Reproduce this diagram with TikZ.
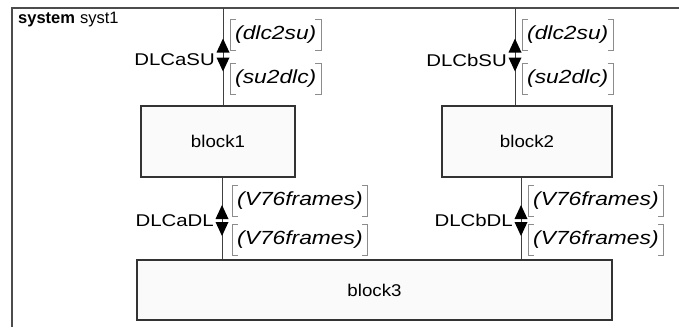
\documentclass[tikz,border=0pt]{standalone}
\usepackage{fontspec}
\setmainfont{Liberation Sans}
\newfontfamily\widesans[FakeStretch=1.2]{Liberation Sans}
\newfontfamily\blocksans[FakeStretch=1.1]{Liberation Sans}
\usetikzlibrary{calc}

% square brackets drawn round a message-list node
\newcommand\msgbrackets[1]{%
  \draw[brk] ([xshift=6pt]#1.north west) -- (#1.north west) -- (#1.south west) -- ([xshift=6pt]#1.south west)
             ([xshift=-6pt]#1.north east) -- (#1.north east) -- (#1.south east) -- ([xshift=-6pt]#1.south east);}
% pair of filled direction triangles on a channel, around a junction point
% #1 junction, #2 half gap, #3 triangle length
\newcommand\dirpair[3]{%
  \fill[tipfill,shift={(#1)}] (-6.5,-#2) -- (6.5,-#2) -- (0,{-#2-#3}) -- cycle;
  \fill[tipfill,shift={(#1)}] (-6.5,#2) -- (6.5,#2) -- (0,{#2+#3}) -- cycle;}

\begin{document}
\begin{tikzpicture}[x=1pt,y=-1pt,
  every node/.style={inner sep=0pt},
  blk/.style={draw=black!80, line width=1.2pt, fill=black!2, font=\blocksans\fontsize{17}{20}\selectfont},
  conn/.style={draw=black!75, line width=0.9pt},
  frameline/.style={draw=black!70, line width=1.6pt},
  brk/.style={draw=black!45, line width=0.9pt},
  tipfill/.style={fill=black},
  msg/.style={font=\widesans\fontsize{19}{22}\selectfont\itshape, minimum height=31pt, inner xsep=5pt, anchor=west},
  chname/.style={anchor=east, font=\widesans\fontsize{17}{20}\selectfont}]
\useasboundingbox (0,0) rectangle (679,327);
\fill[white] (0,0) rectangle (679,327);

% system frame (continues past the visible area)
\draw[frameline] (12,327) -- (12,8) -- (679,8);
\node[anchor=base west, font=\fontsize{16.5}{19}\selectfont] (sysname) at (18,23.5) {\textbf{system}\hspace{5pt}syst1};

% blocks
\node[blk, minimum width=154pt, minimum height=71pt] (b1) at (218,141.5) {block1};
\node[blk, minimum width=170pt, minimum height=71pt] (b2) at (527,141.5) {block2};
\node[blk, minimum width=475pt, minimum height=60pt] (b3) at (374.5,290) {block3};

% channel end points
\coordinate (ta) at (223,8);
\coordinate (tb) at (515,8);
\path (b1.south) ++(4,0) coordinate (la);
\path (b2.south) ++(-6,0) coordinate (lb);

% channels
\draw[conn] (ta) -- (ta |- b1.north);
\draw[conn] (tb) -- (tb |- b2.north);
\draw[conn] (la) -- (la |- b3.north);
\draw[conn] (lb) -- (lb |- b3.north);

% junctions where the direction marks sit
\coordinate (ja) at (223,55);
\coordinate (jb) at (515,55);
\coordinate (ka) at (222,220.5);
\coordinate (kb) at (521,220.5);

\dirpair{ja}{2.5}{14}
\dirpair{jb}{2.5}{14}
\dirpair{ka}{1.5}{14}
\dirpair{kb}{1.5}{14}

% channel names
\node[chname] (nA) at ($(ja)+(-8,5)$) {DLCaSU};
\node[chname] (nB) at ($(jb)+(-8,5)$) {DLCbSU};
\node[chname] (nC) at ($(ka)+(-8,0)$) {DLCaDL};
\node[chname] (nD) at ($(kb)+(-8,0)$) {DLCbDL};

% message lists
\node[msg] (ma1) at (230,35) {(dlc2su)};
\node[msg] (ma2) at (230,79) {(su2dlc)};
\node[msg] (mb1) at (522,35) {(dlc2su)};
\node[msg] (mb2) at (522,79) {(su2dlc)};
\node[msg] (mc1) at (232,201) {(V76frames)};
\node[msg] (mc2) at (232,240) {(V76frames)};
\node[msg] (md1) at (528,201) {(V76frames)};
\node[msg] (md2) at (528,240) {(V76frames)};
\msgbrackets{ma1}\msgbrackets{ma2}\msgbrackets{mb1}\msgbrackets{mb2}
\msgbrackets{mc1}\msgbrackets{mc2}\msgbrackets{md1}\msgbrackets{md2}
\end{tikzpicture}
\end{document}
